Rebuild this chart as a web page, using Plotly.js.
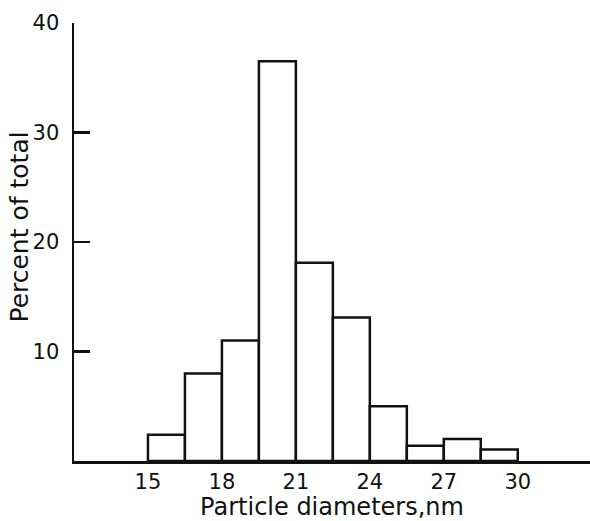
<!DOCTYPE html>
<html>
<head>
<meta charset="utf-8">
<script src="https://cdn.plot.ly/plotly-3.0.1.min.js"></script>
<style>html,body{margin:0;padding:0;background:#fff;}#chart{width:590px;height:521px;}</style>
</head>
<body>
<div id="chart"></div>
<script>
// Bin left edges (nm), bin width (nm) and percent of total per bin
var binLeft = [15, 16.5, 18, 19.5, 21, 22.5, 24, 25.5, 27, 28.5];
var binWidth = 1.5;
var percent = [2.4, 8.0, 11.0, 36.5, 18.1, 13.1, 5.0, 1.4, 2.0, 1.05];
var xTicks = [15, 18, 21, 24, 27, 30];
var yTicks = [10, 20, 30, 40];
var xTitle = 'Particle diameters,nm';
var yTitle = 'Percent of total';

var centers = binLeft.map(function (l) { return l + binWidth / 2; });

var trace = {
  type: 'bar',
  x: centers,
  y: percent,
  width: binLeft.map(function () { return binWidth; }),
  marker: { color: '#ffffff', line: { color: '#111111', width: 2.5 } },
  hoverinfo: 'none'
};

var layout = {
  width: 590,
  height: 521,
  margin: { l: 74, r: 0, t: 23, b: 60 },
  paper_bgcolor: '#ffffff',
  plot_bgcolor: '#ffffff',
  showlegend: false,
  font: { family: 'DejaVu Sans', color: '#111111' },
  xaxis: {
    range: [12, 32.93],
    showgrid: false,
    zeroline: false,
    showline: true,
    linecolor: '#111111',
    linewidth: 2.5,
    ticks: '',
    tickmode: 'array',
    tickvals: xTicks,
    ticktext: xTicks.map(String),
    tickfont: { size: 21, family: 'DejaVu Sans', color: '#111111' },
    ticklabelstandoff: 0,
    title: { text: xTitle, font: { size: 24, family: 'DejaVu Sans', color: '#111111' }, standoff: 8 }
  },
  yaxis: {
    range: [0, 40],
    showgrid: false,
    zeroline: false,
    showline: true,
    linecolor: '#111111',
    linewidth: 2.5,
    ticks: 'inside',
    ticklen: 16,
    tickwidth: 2.5,
    tickcolor: '#111111',
    tickmode: 'array',
    tickvals: yTicks,
    ticktext: yTicks.map(String),
    tickfont: { size: 21, family: 'DejaVu Sans', color: '#111111' },
    ticklabelstandoff: 8
  },
  annotations: [{
    text: yTitle,
    xref: 'paper', yref: 'paper',
    x: -54 / 516, y: 0.533,
    xanchor: 'center', yanchor: 'middle',
    textangle: -90,
    showarrow: false,
    font: { size: 25, family: 'DejaVu Sans', color: '#111111' }
  }]
};

Plotly.newPlot('chart', [trace], layout, { staticPlot: true, displayModeBar: false });
</script>
</body>
</html>
